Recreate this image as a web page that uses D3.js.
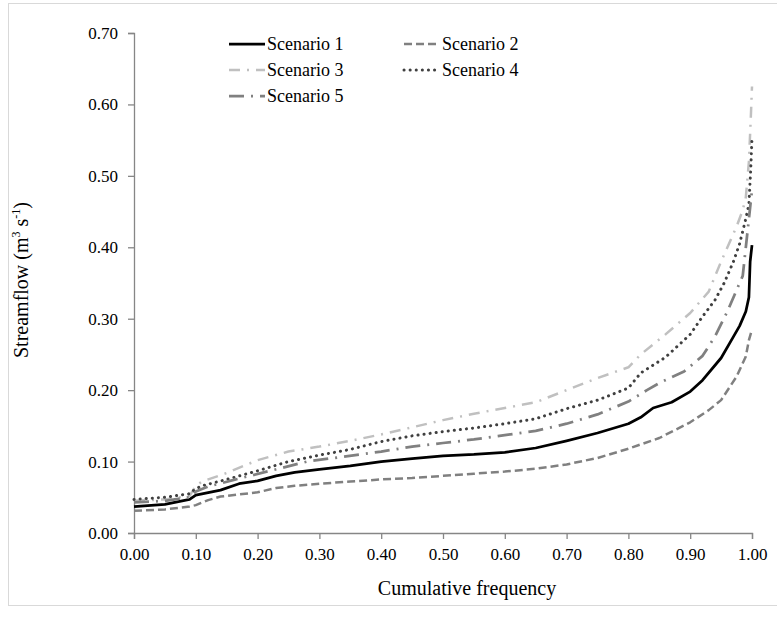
<!DOCTYPE html>
<html lang="en">
<head>
    <meta charset="UTF-8">
    <title>Streamflow duration curves</title>
    <script src="https://cdnjs.cloudflare.com/ajax/libs/d3/7.8.5/d3.min.js"></script>
    <style>
        body {
            margin: 0;
            padding: 0;
            background-color: #ffffff;
        }
        svg text {
            fill: #000;
            font-family: "Liberation Serif", "Times New Roman", serif;
        }
    </style>
</head>
<body>
    <div id="chart"></div>
    <script>
        // cumulative frequency / streamflow pairs
        const scenario1 = [
            [0, 0.037], [0.05, 0.040], [0.09, 0.047], [0.10, 0.053], [0.14, 0.060], [0.17, 0.069],
            [0.20, 0.073], [0.23, 0.080], [0.26, 0.085], [0.30, 0.089], [0.35, 0.094], [0.40, 0.100],
            [0.45, 0.104], [0.50, 0.108], [0.55, 0.110], [0.60, 0.113], [0.65, 0.119], [0.70, 0.129],
            [0.75, 0.140], [0.80, 0.153], [0.82, 0.162], [0.84, 0.175], [0.87, 0.183], [0.90, 0.198],
            [0.92, 0.214], [0.95, 0.245], [0.97, 0.275], [0.98, 0.290], [0.99, 0.310], [0.995, 0.330],
            [0.997, 0.380], [1.0, 0.403]
        ];
        const scenario2 = [
            [0, 0.031], [0.05, 0.033], [0.09, 0.037], [0.10, 0.039], [0.12, 0.046], [0.14, 0.051],
            [0.20, 0.057], [0.23, 0.063], [0.26, 0.066], [0.30, 0.069], [0.35, 0.072], [0.40, 0.075],
            [0.45, 0.077], [0.50, 0.080], [0.55, 0.083], [0.60, 0.086], [0.65, 0.090], [0.70, 0.096],
            [0.75, 0.105], [0.80, 0.118], [0.85, 0.133], [0.90, 0.155], [0.93, 0.172], [0.95, 0.186],
            [0.975, 0.219], [0.99, 0.247], [0.995, 0.270], [1.0, 0.285]
        ];
        const scenario3 = [
            [0, 0.045], [0.05, 0.047], [0.09, 0.052], [0.10, 0.066], [0.11, 0.072], [0.15, 0.084],
            [0.20, 0.102], [0.25, 0.114], [0.30, 0.121], [0.35, 0.129], [0.40, 0.138], [0.45, 0.148],
            [0.50, 0.158], [0.55, 0.167], [0.60, 0.175], [0.65, 0.183], [0.70, 0.200], [0.75, 0.217],
            [0.80, 0.232], [0.82, 0.250], [0.86, 0.278], [0.90, 0.308], [0.93, 0.338], [0.95, 0.380],
            [0.975, 0.429], [0.985, 0.452], [0.99, 0.470], [0.995, 0.520], [0.998, 0.580], [1.0, 0.625]
        ];
        const scenario4 = [
            [0, 0.047], [0.05, 0.050], [0.09, 0.055], [0.10, 0.062], [0.11, 0.066], [0.15, 0.075],
            [0.20, 0.087], [0.25, 0.100], [0.30, 0.109], [0.35, 0.117], [0.40, 0.128], [0.45, 0.136],
            [0.50, 0.142], [0.55, 0.147], [0.60, 0.153], [0.65, 0.160], [0.70, 0.174], [0.75, 0.186],
            [0.80, 0.203], [0.82, 0.224], [0.86, 0.246], [0.90, 0.278], [0.92, 0.303], [0.94, 0.326],
            [0.955, 0.350], [0.97, 0.380], [0.98, 0.405], [0.99, 0.440], [0.995, 0.460], [0.998, 0.510],
            [1.0, 0.553]
        ];
        const scenario5 = [
            [0, 0.043], [0.05, 0.045], [0.09, 0.050], [0.10, 0.058], [0.12, 0.065], [0.16, 0.074],
            [0.22, 0.087], [0.28, 0.100], [0.34, 0.107], [0.40, 0.114], [0.45, 0.121], [0.50, 0.126],
            [0.55, 0.131], [0.60, 0.137], [0.65, 0.143], [0.70, 0.153], [0.75, 0.166], [0.80, 0.184],
            [0.83, 0.200], [0.85, 0.210], [0.89, 0.226], [0.92, 0.248], [0.94, 0.275], [0.96, 0.310],
            [0.975, 0.340], [0.985, 0.360], [0.99, 0.400], [0.995, 0.440], [1.0, 0.480]
        ];

        const seriesNames = ["Scenario 1", "Scenario 2", "Scenario 3", "Scenario 4", "Scenario 5"];
        const xTicks = [0, 0.1, 0.2, 0.3, 0.4, 0.5, 0.6, 0.7, 0.8, 0.9, 1.0];
        const yTicks = [0, 0.1, 0.2, 0.3, 0.4, 0.5, 0.6, 0.7];

        const width = 777, height = 620;
        const margin = {top: 33, right: 25, bottom: 87, left: 134};
        const serif = "'Liberation Serif', 'Times New Roman', serif";

        const series = [
            {name: seriesNames[0], values: scenario1, color: "#000000", width: 2.75, dash: null, cap: "butt"},
            {name: seriesNames[1], values: scenario2, color: "#808080", width: 2.5, dash: "8,4", cap: "butt"},
            {name: seriesNames[2], values: scenario3, color: "#c0c0c0", width: 2.5, dash: "11,7,2,7", cap: "butt"},
            {name: seriesNames[3], values: scenario4, color: "#404040", width: 3, dash: "0.1,6", cap: "round"},
            {name: seriesNames[4], values: scenario5, color: "#808080", width: 2.75, dash: "15,7,2,7", cap: "butt"}
        ];

        const svg = d3.select("#chart")
            .append("svg")
            .attr("width", width)
            .attr("height", height)
            .attr("font-family", serif);

        // outer chart border
        svg.append("rect")
            .attr("x", 8.5).attr("y", 3.5)
            .attr("width", 800).attr("height", 602)
            .attr("fill", "none")
            .attr("stroke", "#d9d9d9");

        const x = d3.scaleLinear().domain([0, 1]).range([margin.left, width - margin.right]);
        const y = d3.scaleLinear().domain([0, 0.7]).range([height - margin.bottom, margin.top]);

        const xAxis = svg.append("g")
            .attr("transform", `translate(0,${y(0)})`)
            .call(d3.axisBottom(x).tickValues(xTicks).tickFormat(d3.format(".2f")).tickSize(6).tickPadding(6));

        const yAxis = svg.append("g")
            .attr("transform", `translate(${x(0)},0)`)
            .call(d3.axisLeft(y).tickValues(yTicks).tickFormat(d3.format(".2f")).tickSize(6).tickPadding(10));

        [xAxis, yAxis].forEach(a => {
            a.attr("font-family", serif).attr("font-size", 17);
            a.select(".domain").attr("stroke", "#868686").attr("stroke-width", 1.3);
            a.selectAll(".tick line").attr("stroke", "#868686").attr("stroke-width", 1.3);
            a.selectAll(".tick text").attr("fill", "#000");
        });
        xAxis.selectAll(".tick text").attr("dy", "0.9em");

        const line = d3.line()
            .x(d => x(d[0]))
            .y(d => y(d[1]));

        svg.append("g")
            .selectAll("path")
            .data(series)
            .join("path")
            .attr("d", d => line(d.values))
            .attr("fill", "none")
            .attr("stroke", d => d.color)
            .attr("stroke-width", d => d.width)
            .attr("stroke-dasharray", d => d.dash)
            .attr("stroke-linecap", d => d.cap)
            .attr("stroke-linejoin", "round");

        // axis titles
        svg.append("text")
            .attr("x", 467)
            .attr("y", 595)
            .attr("text-anchor", "middle")
            .attr("font-size", 20)
            .text("Cumulative frequency");

        const yTitle = svg.append("text")
            .attr("transform", "translate(28,280) rotate(-90)")
            .attr("text-anchor", "middle")
            .attr("font-size", 20);
        yTitle.append("tspan").text("Streamflow (m");
        yTitle.append("tspan").attr("font-size", 12).attr("dy", -8).text("3");
        yTitle.append("tspan").attr("dy", 8).text(" s");
        yTitle.append("tspan").attr("font-size", 12).attr("dy", -8).text("-1");
        yTitle.append("tspan").attr("dy", 8).text(")");

        // legend
        const legendPos = [[229, 44], [404, 44], [229, 70], [404, 70], [229, 96]];
        const legend = svg.append("g")
            .selectAll("g")
            .data(series)
            .join("g")
            .attr("transform", (d, i) => `translate(${legendPos[i][0]},${legendPos[i][1]})`);

        legend.append("line")
            .attr("x1", 0).attr("x2", 36)
            .attr("y1", 0).attr("y2", 0)
            .attr("stroke", d => d.color)
            .attr("stroke-width", d => d.width)
            .attr("stroke-dasharray", d => d.dash)
            .attr("stroke-linecap", d => d.cap);

        legend.append("text")
            .attr("x", 38)
            .attr("dy", "0.35em")
            .attr("font-size", 18)
            .text(d => d.name);
    </script>
</body>
</html>
